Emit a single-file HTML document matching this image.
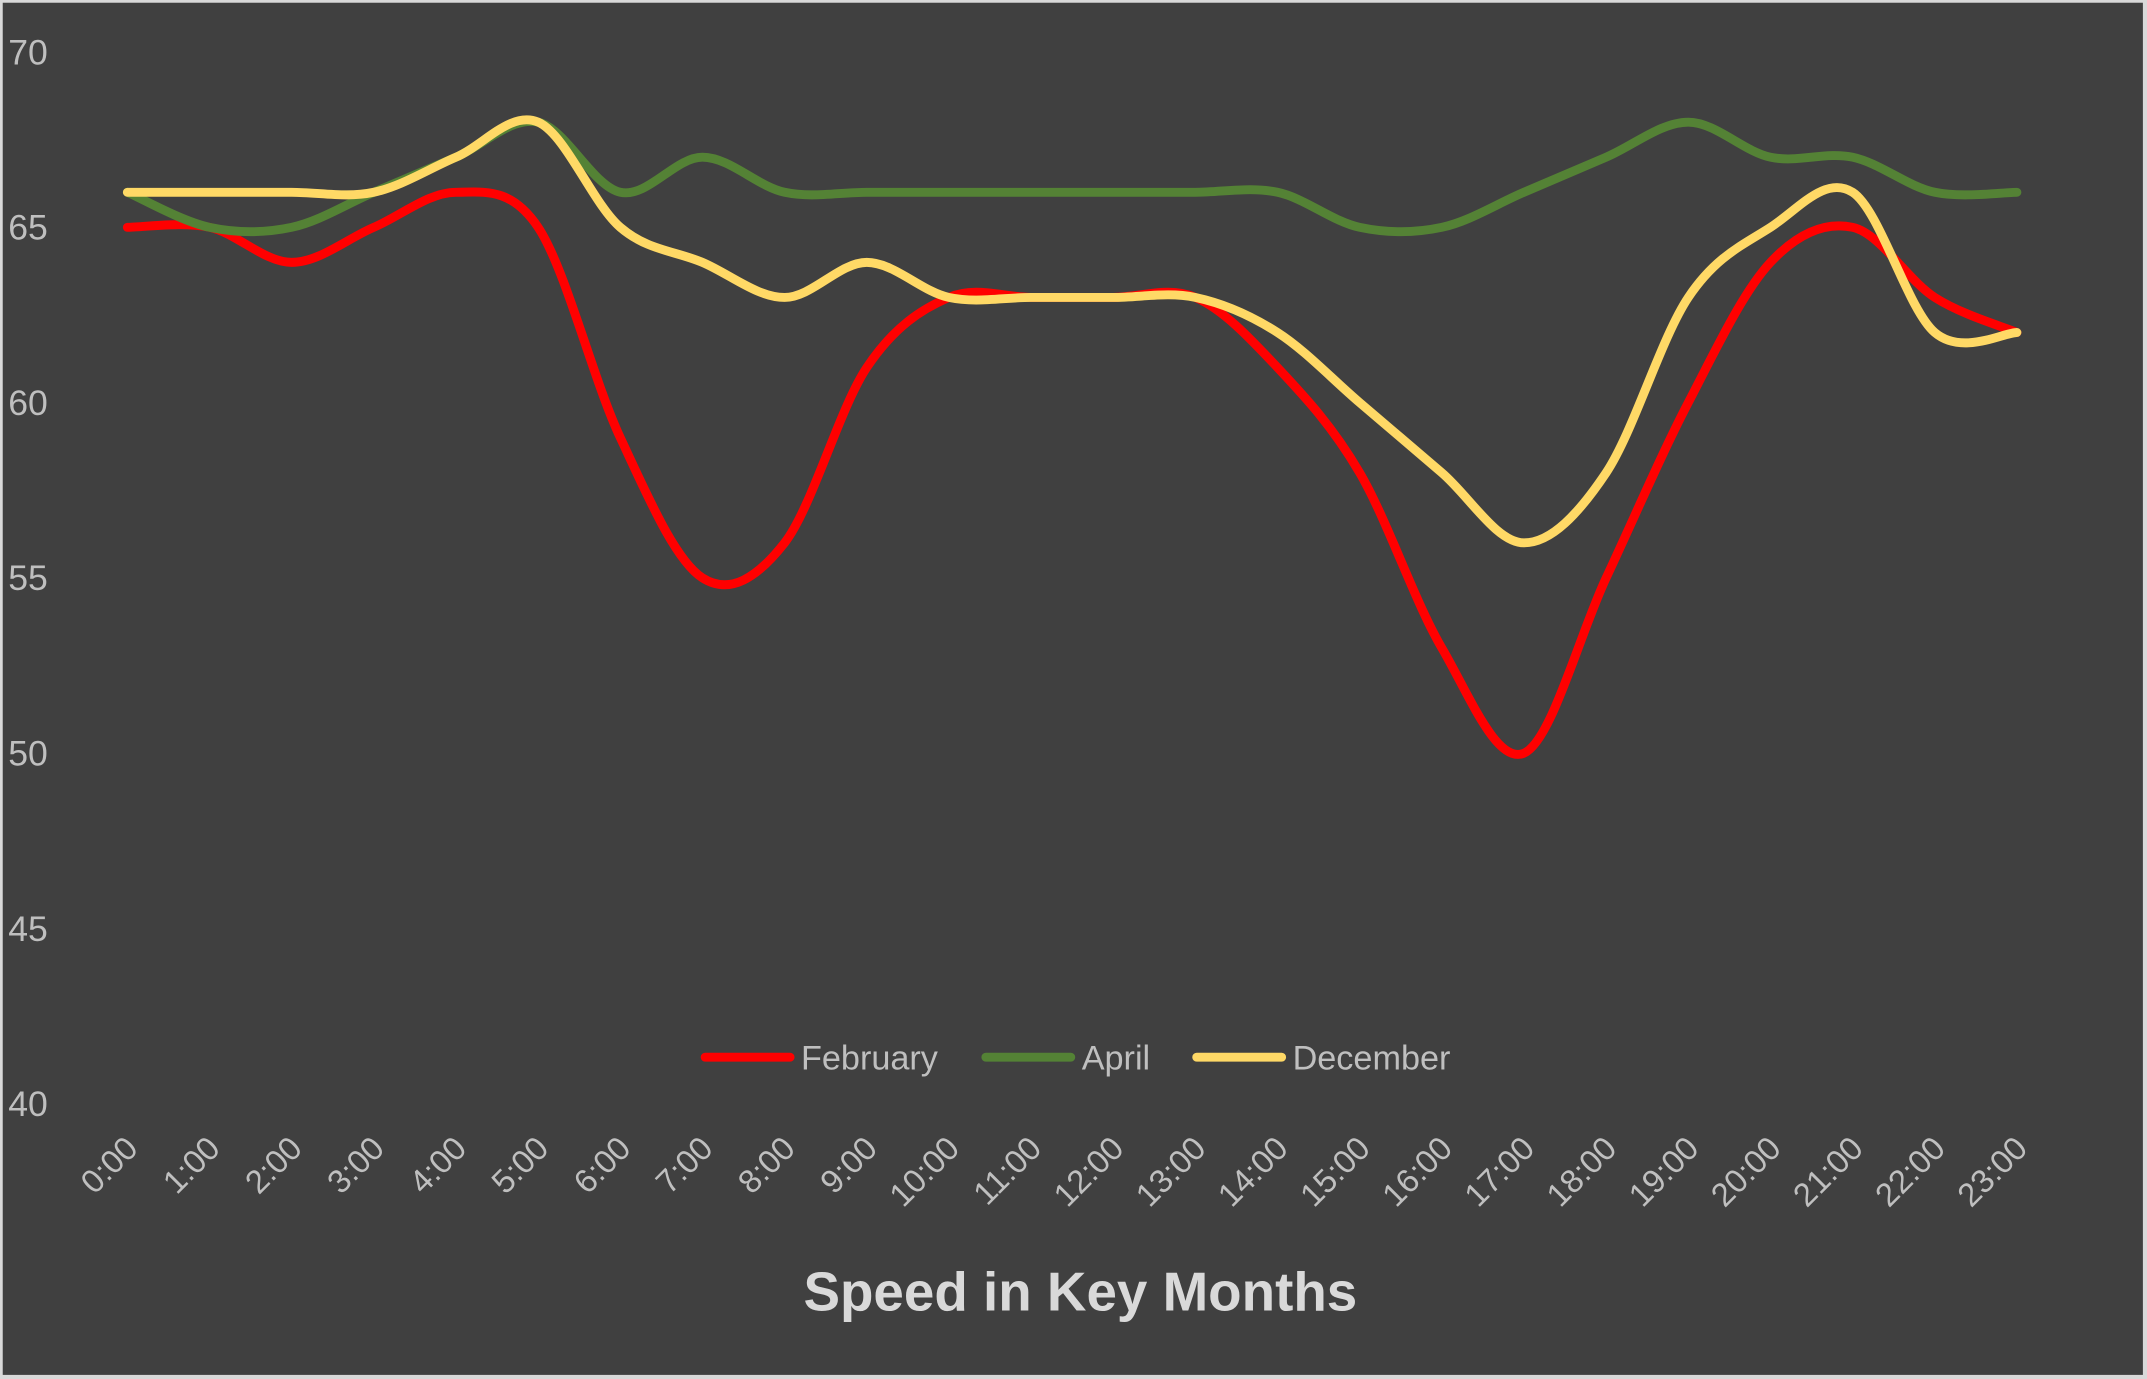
<!DOCTYPE html>
<html><head><meta charset="utf-8"><style>
html,body{margin:0;padding:0;background:#d9d9d9;}
svg{display:block;}
text{font-family:"Liberation Sans",sans-serif;}
</style></head><body>
<svg id="s" width="2147" height="1379" viewBox="0 0 1568 1007" preserveAspectRatio="none" xmlns="http://www.w3.org/2000/svg">
<rect x="0" y="0" width="1568" height="1007" fill="#d9d9d9"/>
<rect x="2" y="2" width="1563" height="1002" fill="#404040"/>
<g fill="#bfbfbf" font-size="26">
<text x="6" y="47">70</text>
<text x="6" y="175">65</text>
<text x="6" y="303">60</text>
<text x="6" y="431">55</text>
<text x="6" y="559">50</text>
<text x="6" y="687">45</text>
<text x="6" y="815">40</text>
</g>
<g id="xl" fill="#bfbfbf" font-size="24"></g>
<g id="lines" fill="none" stroke-width="6.5" stroke-linecap="round" stroke-linejoin="round"></g>
<g font-size="25" fill="#bfbfbf">
<line x1="515" y1="772" x2="577" y2="772" stroke="#ff0000" stroke-width="6.5" stroke-linecap="round"/>
<text x="585" y="781">February</text>
<line x1="720" y1="772" x2="782" y2="772" stroke="#548235" stroke-width="6.5" stroke-linecap="round"/>
<text x="790" y="781">April</text>
<line x1="874" y1="772" x2="936" y2="772" stroke="#ffd966" stroke-width="6.5" stroke-linecap="round"/>
<text x="944" y="781">December</text>
</g>
<text x="789" y="957" text-anchor="middle" font-size="40" font-weight="bold" fill="#d9d9d9">Speed in Key Months</text>
</svg>
<script>
const feb=[65,65,64,65,66,65,59,55,56,61,63,63,63,63,61,58,53,50,55,60,64,65,63,62];
const apr=[66,65,65,66,67,68,66,67,66,66,66,66,66,66,66,65,65,66,67,68,67,67,66,66];
const dec=[66,66,66,66,67,68,65,64,63,64,63,63,63,63,62,60,58,56,58,63,65,66,62,62];
const X=i=>93+i*60, Y=v=>38+(70-v)*25.6;
function path(d){const p=d.map((v,i)=>[X(i),Y(v)]);let s=`M${p[0][0]},${p[0][1]}`;
for(let i=0;i<p.length-1;i++){const p0=p[Math.max(0,i-1)],p1=p[i],p2=p[i+1],p3=p[Math.min(p.length-1,i+2)];const t=1/6;
s+=` C${p1[0]+(p2[0]-p0[0])*t},${p1[1]+(p2[1]-p0[1])*t} ${p2[0]-(p3[0]-p1[0])*t},${p2[1]-(p3[1]-p1[1])*t} ${p2[0]},${p2[1]}`;}return s;}
const ns="http://www.w3.org/2000/svg";const g=document.getElementById('lines');
[[feb,'#ff0000'],[apr,'#548235'],[dec,'#ffd966']].forEach(([d,c])=>{const e=document.createElementNS(ns,'path');e.setAttribute('d',path(d));e.setAttribute('stroke',c);g.appendChild(e);});
const xl=document.getElementById('xl');
for(let i=0;i<24;i++){const t=document.createElementNS(ns,'text');const x=X(i)+9,y=840;t.setAttribute('x',x);t.setAttribute('y',y);t.setAttribute('text-anchor','end');t.setAttribute('transform',`rotate(-45 ${x} ${y})`);t.textContent=i+':00';xl.appendChild(t);}
</script>
</body></html>
